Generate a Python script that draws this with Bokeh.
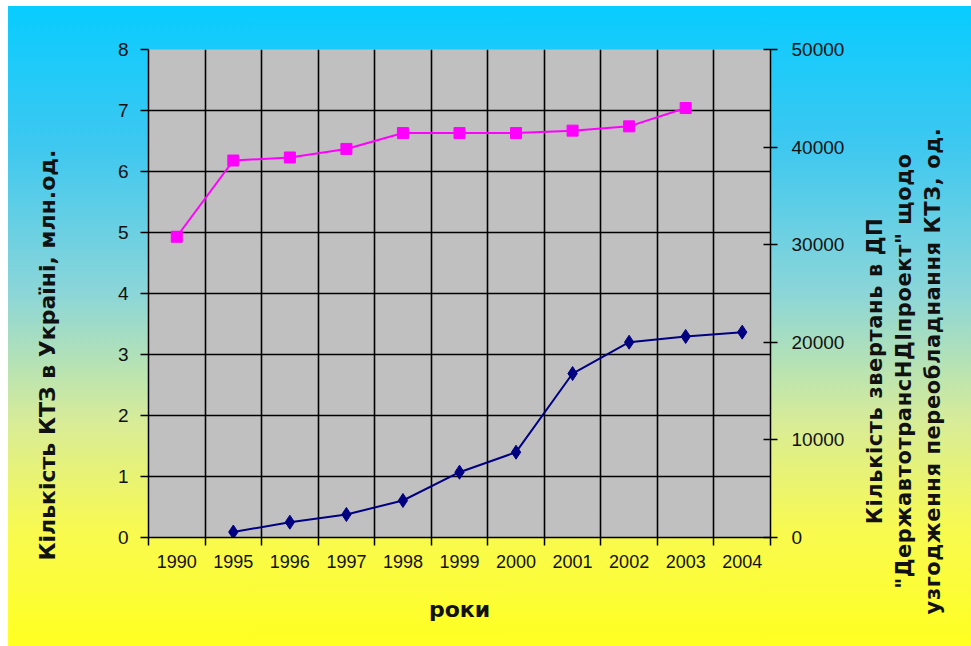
from bokeh.plotting import figure
from bokeh.models import Range1d, LinearAxis, FixedTicker, Div
from bokeh.layouts import row
from bokeh.embed import file_html
from bokeh.resources import INLINE

# ---- data ----
years = ["1990", "1995", "1996", "1997", "1998", "1999", "2000", "2001", "2002", "2003", "2004"]
fleet_years = ["1990", "1995", "1996", "1997", "1998", "1999", "2000", "2001", "2002", "2003"]
fleet_mln = [4.93, 6.18, 6.23, 6.37, 6.63, 6.63, 6.63, 6.67, 6.74, 7.04]
req_years = ["1995", "1996", "1997", "1998", "1999", "2000", "2001", "2002", "2003", "2004"]
requests = [560, 1570, 2360, 3790, 6690, 8740, 16800, 20010, 20600, 21040]
left_ticks = [0, 1, 2, 3, 4, 5, 6, 7, 8]
right_ticks = [0, 10000, 20000, 30000, 40000, 50000]

x_title = "роки"
left_title = "Кількість КТЗ в Україні, млн.од."
right_title_lines = ["Кількість звертань в ДП",
                     "\"ДержавтотрансНДІпроект\" щодо",
                     "узгодження переобладнання КТЗ, од."]

FONT = "Liberation Sans"
TFONT = "DejaVu Sans"

centers = [i + 0.5 for i in range(len(years))]
bounds = list(range(len(years) + 1))
fleet_x = [years.index(y) + 0.5 for y in fleet_years]
req_x = [years.index(y) + 0.5 for y in req_years]

H = 640
LEFT_W = 80
RIGHT_W = 108
P_W = 963 - LEFT_W - RIGHT_W

p = figure(width=P_W, height=H,
           x_range=Range1d(0, len(years)), y_range=Range1d(left_ticks[0], left_ticks[-1]),
           output_backend="svg", toolbar_location=None,
           min_border_left=60, min_border_right=93, min_border_top=43, min_border_bottom=109)
p.margin = 0
p.border_fill_alpha = 0
p.background_fill_color = "#C0C0C0"
p.outline_line_color = None

p.extra_y_ranges = {"right": Range1d(right_ticks[0], right_ticks[-1])}

# x axis
xa = p.xaxis[0]
xa.ticker = FixedTicker(ticks=centers, minor_ticks=bounds)
xa.major_label_overrides = {c: y for c, y in zip(centers, years)}
xa.major_tick_out = 0
xa.major_tick_in = 0
xa.minor_tick_out = 8
xa.minor_tick_in = 0
xa.minor_tick_line_color = "black"
xa.minor_tick_line_width = 1.5
xa.axis_line_color = "black"
xa.axis_line_width = 1.5
xa.major_label_text_font = FONT
xa.major_label_text_font_size = "18px"
xa.major_label_text_color = "#111111"
xa.major_label_standoff = 9
xa.axis_label = x_title
xa.axis_label_text_font = TFONT
xa.axis_label_text_font_style = "bold"
xa.axis_label_text_font_size = "22px"
xa.axis_label_text_color = "#111111"
xa.axis_label_standoff = 26

# left axis
ya = p.yaxis[0]
ya.ticker = FixedTicker(ticks=left_ticks)
ya.major_tick_out = 8
ya.major_tick_in = 0
ya.minor_tick_out = 0
ya.minor_tick_in = 0
ya.major_tick_line_color = "black"
ya.major_tick_line_width = 1.5
ya.axis_line_color = "black"
ya.axis_line_width = 1.5
ya.major_label_text_font = FONT
ya.major_label_text_font_size = "19px"
ya.major_label_text_color = "#111111"
ya.major_label_standoff = 12

# right axis
ra = LinearAxis(y_range_name="right", ticker=FixedTicker(ticks=right_ticks))
ra.major_tick_out = 7
ra.major_tick_in = 7
ra.minor_tick_out = 0
ra.minor_tick_in = 0
ra.major_tick_line_color = "black"
ra.major_tick_line_width = 1.5
ra.axis_line_color = "black"
ra.axis_line_width = 1.5
ra.major_label_text_font = FONT
ra.major_label_text_font_size = "19px"
ra.major_label_text_color = "#111111"
ra.major_label_standoff = 14
p.add_layout(ra, "right")

# grids
p.xgrid.ticker = FixedTicker(ticks=bounds[1:-1])
p.xgrid.grid_line_color = "black"
p.xgrid.grid_line_width = 1.6
p.ygrid.ticker = FixedTicker(ticks=left_ticks[1:-1])
p.ygrid.grid_line_color = "black"
p.ygrid.grid_line_width = 1.6

# series
p.line(fleet_x, fleet_mln, line_color="#FF00FF", line_width=2)
p.scatter(fleet_x, fleet_mln, marker="square", size=11, fill_color="#FF00FF", line_color="#FF00FF")
p.line(req_x, requests, y_range_name="right", line_color="#000080", line_width=2)
p.scatter(req_x, requests, y_range_name="right", marker="diamond", size=14,
          fill_color="#000080", line_color="#000080")

# rotated axis titles (reading bottom to top)
def rotated_block(html, cx, cy, size, lh, ls=0.0):
    return ('<div style="position:relative;width:100%;height:100%;">'
            f'<div style="position:absolute;left:{cx}px;top:{cy}px;'
            'transform:translate(-50%,-50%) rotate(-90deg);white-space:nowrap;'
            f'text-align:center;font-family:\'{TFONT}\';font-weight:bold;font-size:{size}px;'
            f'letter-spacing:{ls}px;line-height:{lh}px;color:#111111;">{html}</div></div>')

left_div = Div(text=rotated_block(left_title, 40, 337, 22, 28), width=LEFT_W, height=H, margin=0)
right_div = Div(text=rotated_block("<br>".join(right_title_lines), 41, 353, 21, 29, 0.6),
                width=RIGHT_W, height=H, margin=0)

layout = row(left_div, p, right_div, spacing=0)
layout.margin = (6, 0, 0, 8)
layout.styles = {"background": "linear-gradient(to bottom, #08CCFF 0%, #3EC8F0 22%, #8CD6D8 45%, #D8EC98 65%, #F8FA50 82%, #FFFF20 100%)"}

open("out.html", "w").write(file_html(layout, INLINE))
